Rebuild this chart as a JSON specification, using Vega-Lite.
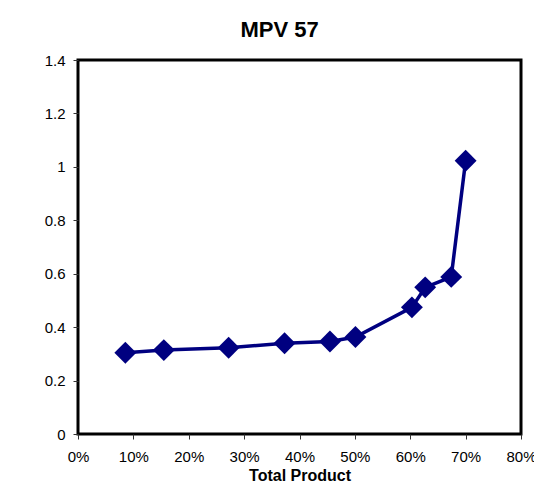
{
  "$schema": "https://vega.github.io/schema/vega-lite/v6.json",
  "autosize": {"type": "none"},
  "padding": {"left": 78, "top": 60, "right": 13, "bottom": 59},
  "width": 443,
  "height": 374,
  "background": "white",
  "title": {
    "text": "MPV 57",
    "font": "Liberation Sans",
    "fontSize": 22,
    "fontWeight": "bold",
    "color": "black",
    "offset": 11,
    "dx": -20
  },
  "config": {
    "view": {"stroke": "black", "strokeWidth": 3},
    "axis": {
      "labelFont": "Liberation Sans",
      "labelFontSize": 15,
      "labelColor": "black",
      "titleFont": "Liberation Sans",
      "grid": false,
      "domain": false,
      "tickColor": "#333333",
      "tickSize": 5
    }
  },
  "data": {
    "values": [
      {"share": 0.0855, "value": 0.304},
      {"share": 0.155, "value": 0.314},
      {"share": 0.272, "value": 0.323},
      {"share": 0.373, "value": 0.34},
      {"share": 0.455, "value": 0.346},
      {"share": 0.501, "value": 0.363},
      {"share": 0.603, "value": 0.474},
      {"share": 0.627, "value": 0.549},
      {"share": 0.674, "value": 0.588},
      {"share": 0.7, "value": 1.023}
    ]
  },
  "mark": {
    "type": "line",
    "color": "#000080",
    "strokeWidth": 3.5,
    "point": {"shape": "diamond", "size": 480, "filled": true, "color": "#000080", "opacity": 1}
  },
  "encoding": {
    "x": {
      "field": "share",
      "type": "quantitative",
      "scale": {"domain": [0, 0.8], "nice": false},
      "axis": {
        "title": "Total Product",
        "titleFontSize": 16,
        "titleFontWeight": "bold",
        "titleColor": "black",
        "titlePadding": 3,
        "format": ".0%",
        "values": [0, 0.1, 0.2, 0.3, 0.4, 0.5, 0.6, 0.7, 0.8],
        "labelPadding": 10,
        "labelFlush": false
      }
    },
    "y": {
      "field": "value",
      "type": "quantitative",
      "scale": {"domain": [0, 1.4], "nice": false},
      "axis": {
        "title": null,
        "format": "~g",
        "values": [0, 0.2, 0.4, 0.6, 0.8, 1, 1.2, 1.4],
        "labelPadding": 8
      }
    }
  }
}
